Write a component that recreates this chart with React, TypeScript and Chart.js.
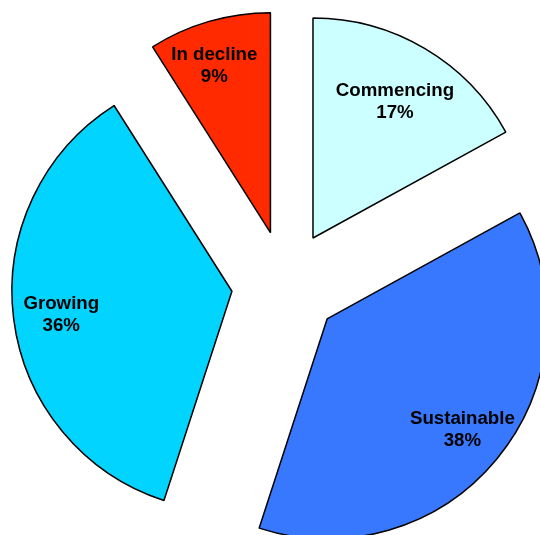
import { useEffect, useRef } from "react";
import { Chart, registerables } from "chart.js";

Chart.register(...registerables);

// ---- data ----
const categories = ["Commencing", "Sustainable", "Growing", "In decline"];
const values = [17, 38, 36, 9];
const percentLabels = ["17%", "38%", "36%", "9%"];
const sliceColors = ["#CCFFFF", "#3878FF", "#00D4FF", "#FF2A00"];

// ---- layout / style ----
const CANVAS_W = 571;
const CANVAS_H = 569;
const RADIUS = 220;
const EXPLODE = 54; // visual explode distance in px
const LABEL_DIST = [161, 173, 172, 176]; // distance of label from slice apex
const LABEL_NUDGE_X = [0, 2, 0, -7];
const LABEL_NUDGE_Y = [2, 1, 2, 2];
const FONT = 'bold 18.7px "Liberation Sans", Arial, sans-serif';
const LINE_H = 22;

// Chart.js enlarges small exploded slices; compensate so all slices share one radius
const explodeFix = {
  id: "explodeFix",
  afterDatasetsUpdate(chart: any) {
    const meta = chart.getDatasetMeta(0);
    meta.data.forEach((el: any) => {
      const c = el.circumference;
      const fix = 1 - Math.sin(Math.min(Math.PI, c));
      const ro = EXPLODE * fix;
      el.outerRadius = RADIUS - ro;
      const trim = ro / (2 * Math.PI * RADIUS);
      el.startAngle -= trim;
      el.endAngle += trim;
    });
  },
};

const sliceLabels = {
  id: "sliceLabels",
  afterDatasetsDraw(chart: any) {
    const ctx = chart.ctx;
    const meta = chart.getDatasetMeta(0);
    ctx.save();
    ctx.font = FONT;
    ctx.fillStyle = "#000000";
    ctx.textAlign = "center";
    ctx.textBaseline = "middle";
    meta.data.forEach((el: any, i: number) => {
      const mid = (el.startAngle + el.endAngle) / 2;
      const d = EXPLODE + LABEL_DIST[i];
      const x = el.x + Math.cos(mid) * d + LABEL_NUDGE_X[i];
      const y = el.y + Math.sin(mid) * d + LABEL_NUDGE_Y[i];
      ctx.fillText(categories[i], x, y - LINE_H / 2);
      ctx.fillText(percentLabels[i], x, y + LINE_H / 2);
    });
    ctx.restore();
  },
};

export default function App() {
  const ref = useRef<HTMLCanvasElement | null>(null);

  useEffect(() => {
    if (!ref.current) return;
    const chart = new Chart(ref.current, {
      type: "pie",
      data: {
        labels: categories,
        datasets: [
          {
            data: values,
            backgroundColor: sliceColors,
            borderColor: "#000000",
            borderWidth: 1.5,
            offset: EXPLODE * 4,
            hoverOffset: 0,
          } as any,
        ],
      },
      options: {
        responsive: false,
        animation: false,
        devicePixelRatio: 1,
        radius: RADIUS,
        layout: { padding: 0 },
        events: [],
        plugins: {
          legend: { display: false },
          tooltip: { enabled: false },
        },
      } as any,
      plugins: [explodeFix, sliceLabels],
    });
    return () => chart.destroy();
  }, []);

  return (
    <div
      style={{
        position: "fixed",
        left: 0,
        top: 0,
        width: 540,
        height: 535,
        overflow: "hidden",
        background: "#ffffff",
      }}
    >
      <canvas
        ref={ref}
        width={CANVAS_W}
        height={CANVAS_H}
        style={{ display: "block", width: CANVAS_W, height: CANVAS_H }}
      />
    </div>
  );
}
